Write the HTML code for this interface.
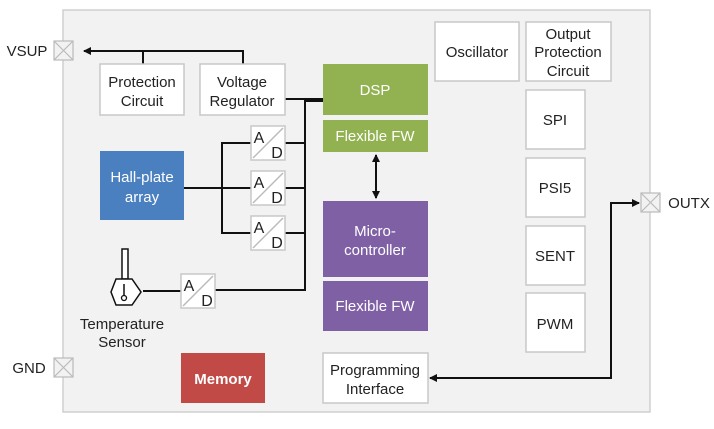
<!DOCTYPE html>
<html><head><meta charset="utf-8"><style>
body{margin:0;background:#fff;width:714px;height:424px;overflow:hidden}
svg text{font-family:"Liberation Sans",Arial,sans-serif;font-size:15px;fill:#222;text-anchor:middle}
.b{fill:#fff;stroke:#c8c8c8;stroke-width:1.5}
.l{stroke:#111;stroke-width:2;fill:none}
.ad{font-size:16px}
</style></head><body>
<svg width="714" height="424" viewBox="0 0 714 424">
<defs><marker id="a" markerWidth="8" markerHeight="8" refX="7" refY="4" orient="auto" markerUnits="userSpaceOnUse"><path d="M0,0 L8,4 L0,8z" fill="#111"/></marker>
<marker id="s" markerWidth="8" markerHeight="8" refX="1" refY="4" orient="auto" markerUnits="userSpaceOnUse"><path d="M8,0 L0,4 L8,8z" fill="#111"/></marker></defs>
<rect x="63" y="10" width="587" height="402" fill="#f2f2f2" stroke="#d0d0d0" stroke-width="1.5"/>
<g fill="#f2f2f2" stroke="#bbb" stroke-width="1.2">
<rect x="54" y="41" width="19" height="19"/><path d="M54,41L73,60M73,41L54,60"/>
<rect x="54" y="358" width="19" height="19"/><path d="M54,358L73,377M73,358L54,377"/>
<rect x="641" y="193" width="19" height="19"/><path d="M641,193L660,212M660,193L641,212"/>
</g>
<text x="27" y="56">VSUP</text>
<text x="29" y="373">GND</text>
<text x="689" y="208">OUTX</text>
<path class="l" d="M243,64V51H84" marker-end="url(#a)"/>
<path class="l" d="M143,64V51"/>
<path class="l" d="M285,99H323M323,101H305V290H215M143,291H181"/>
<path class="l" d="M285,143H305M285,188H305M285,233H305M251,143H222V233H251M184,188H251"/>
<path class="l" d="M376,155V198" marker-start="url(#s)" marker-end="url(#a)"/>
<path class="l" d="M430,378H611V203H639" marker-start="url(#s)" marker-end="url(#a)"/>
<rect class="b" x="100" y="64" width="84" height="51"/><text x="142" y="87">Protection</text><text x="142" y="106">Circuit</text>
<rect class="b" x="200" y="64" width="85" height="51"/><text x="242" y="87">Voltage</text><text x="242" y="106">Regulator</text>
<rect x="323" y="64" width="105" height="51" fill="#92b251"/><text x="375" y="95" style="fill:#fff">DSP</text>
<rect x="323" y="120" width="105" height="32" fill="#92b251"/><text x="375" y="141" style="fill:#fff">Flexible FW</text>
<rect x="323" y="201" width="105" height="76" fill="#7f60a5"/><text x="375" y="236" style="fill:#fff">Micro-</text><text x="375" y="255" style="fill:#fff">controller</text>
<rect x="323" y="281" width="105" height="50" fill="#7f60a5"/><text x="375" y="311" style="fill:#fff">Flexible FW</text>
<rect x="100" y="151" width="84" height="69" fill="#4a7fc0"/><text x="142" y="182" style="fill:#fff">Hall-plate</text><text x="142" y="202" style="fill:#fff">array</text>
<rect x="181" y="353" width="84" height="50" fill="#c14a47"/><text x="223" y="384" style="fill:#fff;font-weight:bold">Memory</text>
<rect class="b" x="323" y="353" width="105" height="50"/><text x="375" y="375">Programming</text><text x="375" y="394">Interface</text>
<rect class="b" x="435" y="22" width="84" height="59"/><text x="477" y="57">Oscillator</text>
<rect class="b" x="526" y="22" width="85" height="59"/><text x="568" y="39">Output</text><text x="568" y="57">Protection</text><text x="568" y="76">Circuit</text>
<rect class="b" x="526" y="90" width="59" height="59"/><text x="555" y="125">SPI</text>
<rect class="b" x="526" y="158" width="59" height="59"/><text x="555" y="193">PSI5</text>
<rect class="b" x="526" y="226" width="59" height="59"/><text x="555" y="261">SENT</text>
<rect class="b" x="526" y="293" width="59" height="59"/><text x="555" y="329">PWM</text>
<g>
<rect class="b" x="251" y="126" width="34" height="34"/><path d="M253,158L283,128" stroke="#bbb" stroke-width="1.5"/><text class="ad" x="259" y="143">A</text><text class="ad" x="277" y="158">D</text>
<rect class="b" x="251" y="171" width="34" height="34"/><path d="M253,203L283,173" stroke="#bbb" stroke-width="1.5"/><text class="ad" x="259" y="188">A</text><text class="ad" x="277" y="203">D</text>
<rect class="b" x="251" y="216" width="34" height="34"/><path d="M253,248L283,218" stroke="#bbb" stroke-width="1.5"/><text class="ad" x="259" y="233">A</text><text class="ad" x="277" y="248">D</text>
<rect class="b" x="181" y="274" width="34" height="34"/><path d="M183,306L213,276" stroke="#bbb" stroke-width="1.5"/><text class="ad" x="189" y="291">A</text><text class="ad" x="207" y="306">D</text>
</g>
<rect x="122" y="249" width="6" height="30" fill="#fff" stroke="#111" stroke-width="1.5"/>
<path d="M116,279H132L141,292L132,305H116L111,292Z" fill="#fff" stroke="#111" stroke-width="1.5"/>
<path d="M124,284V296" stroke="#111" stroke-width="1.5"/><circle cx="124" cy="298" r="2.5" fill="#fff" stroke="#111" stroke-width="1.3"/>
<text x="122" y="329">Temperature</text><text x="122" y="347">Sensor</text>
</svg>
</body></html>
